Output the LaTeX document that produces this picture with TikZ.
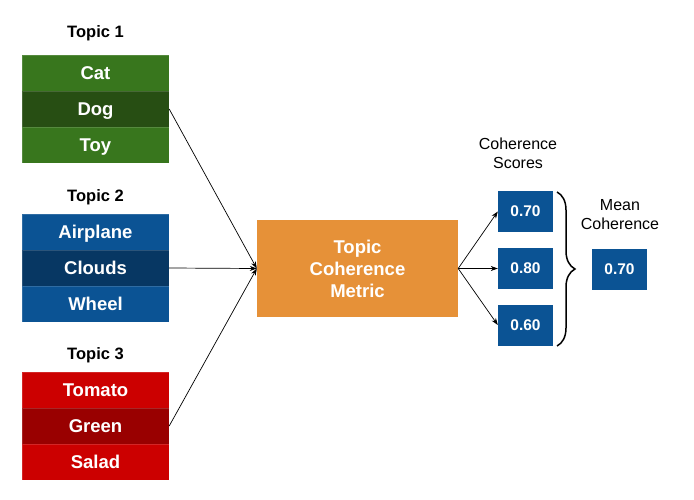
\documentclass[tikz,border=0pt]{standalone}
\usepackage{fontspec}
\setmainfont{Liberation Sans}
\usepackage{xcolor}
\definecolor{mygreen}{RGB}{56,118,29}
\definecolor{mydarkgreen}{RGB}{39,78,19}
\definecolor{myblue}{RGB}{11,83,148}
\definecolor{mydarkblue}{RGB}{7,55,99}
\definecolor{myred}{RGB}{204,0,0}
\definecolor{mydarkred}{RGB}{153,0,0}
\definecolor{myorange}{RGB}{230,145,56}
\usepackage{tikz}
\usetikzlibrary{arrows.meta}
\usetikzlibrary{decorations.pathreplacing}
\newcommand{\widthcell}{147pt}
\newcommand{\heightcell}{36pt}
\newcommand{\widthscore}{55pt}
\tikzset{
    common/.style={rectangle, text=white, inner sep=0pt},
    cell/.style={common, minimum width=\widthcell, minimum height=\heightcell, draw=white, draw opacity=0.15,
        text height=13.2pt, text depth=0pt, font=\bfseries\fontsize{18.5}{22}\selectfont},
    topic/.style={font=\bfseries\fontsize{16.5}{20}\selectfont},
    score/.style={common, fill=myblue, minimum width=\widthscore, minimum height=41pt,
        font=\bfseries\fontsize{15.5}{18}\selectfont},
    metric/.style={common, fill=myorange, minimum width=201pt, minimum height=97pt, align=center,
        font=\bfseries\fontsize{18.5}{22}\selectfont},
    caption/.style={align=center, font=\fontsize{16}{19}\selectfont},
    flow/.style={-{Stealth[length=7pt, width=5pt]}, line width=0.7pt}
}

\begin{document}
\begin{tikzpicture}[x=1pt, y=-1pt]
        \useasboundingbox (0,0) rectangle (694,500);

        \path
            (95.5,33) node[topic] (T1) {Topic 1}
            ++(0,40) node[cell, fill=mygreen] (S1a) {Cat}
            ++(0,36) node[cell, fill=mydarkgreen] (S1b) {Dog}
            ++(0,36) node[cell, fill=mygreen] (S1c) {Toy};

        \path
            (95.5,197) node[topic] (T2) {Topic 2}
            ++(0,35) node[cell, fill=myblue] (S2a) {Airplane}
            ++(0,36) node[cell, fill=mydarkblue] (S2b) {Clouds}
            ++(0,36) node[cell, fill=myblue] (S2c) {Wheel};

        \path
            (95.5,355) node[topic] (T3) {Topic 3}
            ++(0,35) node[cell, fill=myred] (S3a) {Tomato}
            ++(0,36) node[cell, fill=mydarkred] (S3b) {Green}
            ++(0,36) node[cell, fill=myred] (S3c) {Salad};

        \node[metric] (M) at (357.5,268.5) {Topic\\Coherence\\Metric};

        \path
            (525.5,211.5) node[score] (C1) {0.70}
            ++(0,57) node[score] (C2) {0.80}
            ++(0,56.5) node[score] (C3) {0.60};
        \node[caption] (CL) at (518,153) {Coherence\\Scores};

        \node[score] (Mean) at (619.5,269) {0.70};
        \node[caption] (ML) at (620,215) {Mean\\Coherence};

        \coordinate (B-top) at (557,192);
        \coordinate (B-bottom) at (557,346);

        \draw[flow] (S1b.east) -- (M.west);
        \draw[flow] (S2b.east) -- (M.west);
        \draw[flow] (S3b.east) -- (M.west);

        \draw[flow] (M.east) -- (C1.west);
        \draw[flow] (M.east) -- (C2.west);
        \draw[flow] (M.east) -- (C3.west);

        \draw[line width=1.5pt, decorate, decoration={brace, amplitude=18pt, aspect=0.5}]
          (B-top) -- (B-bottom);
    \end{tikzpicture}
\end{document}
